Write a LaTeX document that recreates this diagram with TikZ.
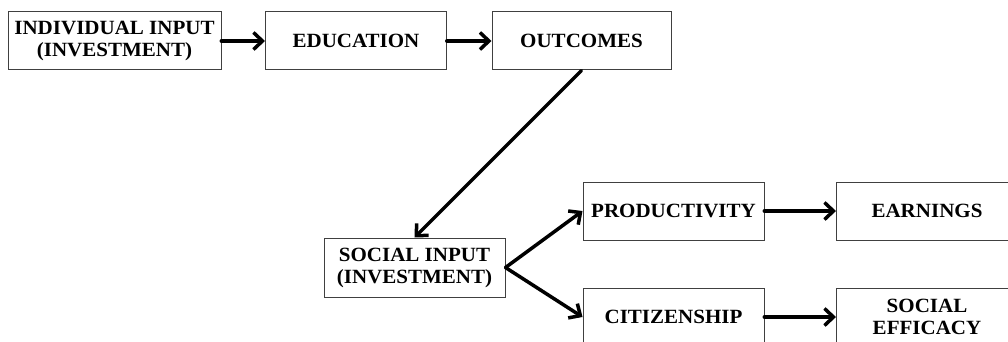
\documentclass[tikz,border=0pt]{standalone}
\usepackage{fontspec}
\setmainfont{Liberation Serif}
\newfontfamily\boxfont[FakeStretch=1.04]{Liberation Serif}
\usetikzlibrary{arrows.meta}

\tikzset{
  box/.style={draw=black!75, line width=1pt, fill=white, align=center,
    inner sep=0pt, minimum width=181pt, minimum height=58pt,
    font=\boxfont\fontsize{20.2}{22}\selectfont\bfseries},
  flow/.style={line width=4pt,
    -{Straight Barb[length=9pt,width=17pt,line width=3.5pt]}}
}

\begin{document}
\begin{tikzpicture}[x=1pt, y=-1pt, line cap=round]

\useasboundingbox (0,0) rectangle (1008,342);

%Coordinates
\coordinate (c1) at (114.5,41);
\coordinate (c2) at (356,41);
\coordinate (c3) at (581.5,41);

\coordinate (c4) at (414.5,267.5);

\coordinate (c5) at (673.5,211);
\coordinate (c6) at (927,211);
\coordinate (c7) at (673.5,317);
\coordinate (c8) at (927,317);


% Nodes
\node[box, minimum width=213pt] (indiv) at (c1) {INDIVIDUAL INPUT\\(INVESTMENT)};
\node[box] (educ) at (c2) {EDUCATION};
\node[box, minimum width=179pt] (outc) at (c3) {OUTCOMES};

\node[box, minimum height=59pt] (social) at (c4) {SOCIAL INPUT\\(INVESTMENT)};

\node[box] (prod) at (c5) {PRODUCTIVITY};
\node[box] (earn) at (c6) {EARNINGS};
\node[box] (citi) at (c7) {CITIZENSHIP};
\node[box] (effi) at (c8) {SOCIAL\\EFFICACY};


% Paths
\draw[flow] (indiv) -- (educ);
\draw[flow] (educ) -- (outc);

\draw[flow, line width=3.5pt] (outc.south) -- (social.north);

\draw[flow, line width=3.5pt] (social.east) -- (prod.west);
\draw[flow, line width=3.5pt] (social.east) -- (citi.west);

\draw[flow] (prod) -- (earn);
\draw[flow] (citi) -- (effi);

\end{tikzpicture}
\end{document}
